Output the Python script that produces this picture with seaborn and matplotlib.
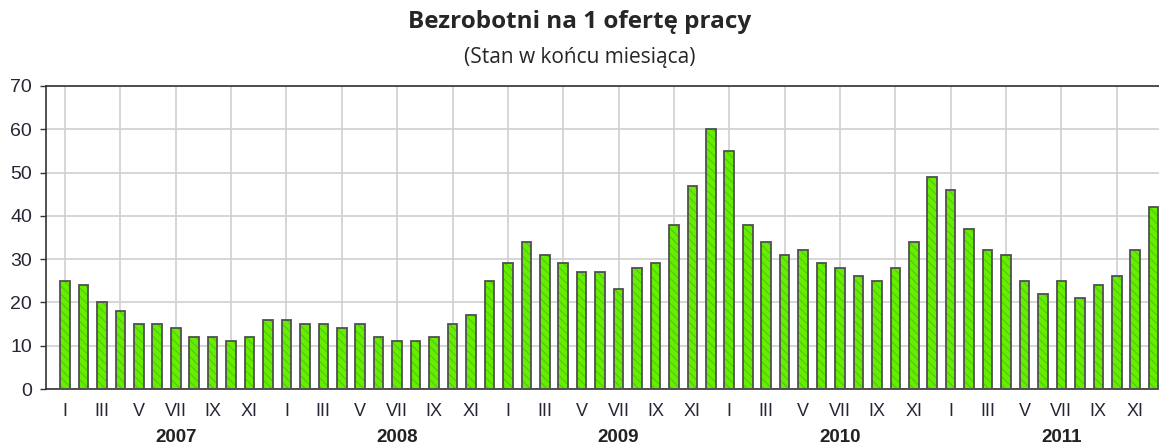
import pandas as pd
import matplotlib
matplotlib.use("Agg")
import matplotlib.pyplot as plt
import matplotlib.transforms as mtransforms
import seaborn as sns

# Data (unemployed per 1 job offer, end of month)
years = [2007, 2008, 2009, 2010, 2011]
month_names = ['I', 'II', 'III', 'IV', 'V', 'VI', 'VII', 'VIII', 'IX', 'X', 'XI', 'XII']
v2007 = [25, 24, 20, 18, 15, 15, 14, 12, 12, 11, 12, 16]
v2008 = [16, 15, 15, 14, 15, 12, 11, 11, 12, 15, 17, 25]
v2009 = [29, 34, 31, 29, 27, 27, 23, 28, 29, 38, 47, 60]
v2010 = [55, 38, 34, 31, 32, 29, 28, 26, 25, 28, 34, 49]
v2011 = [46, 37, 32, 31, 25, 22, 25, 21, 24, 26, 32, 42]

values = v2007 + v2008 + v2009 + v2010 + v2011
labels = [f"{y}-{m}" for y in years for m in month_names]
df = pd.DataFrame({'month': labels, 'value': values})

sns.set_style("white")
plt.rcParams['font.family'] = ['Liberation Sans', 'DejaVu Sans']
plt.rcParams['hatch.linewidth'] = 0.7

fig = plt.figure(figsize=(11.59, 4.46), dpi=100)
ax = fig.add_axes([0.0397, 0.1278, 0.96, 0.6794])

# filled, hatched bars
sns.barplot(data=df, x='month', y='value', order=labels, color='#66ee00',
            saturation=1, width=0.52, edgecolor='#4fc20a', linewidth=0,
            hatch='\\\\\\\\', ax=ax, zorder=2)
# outlines
sns.barplot(data=df, x='month', y='value', order=labels, fill=False,
            width=0.52, edgecolor='#505050', linewidth=1.3, ax=ax, zorder=3)

ax.set_xlim(-1.03, 59.27)
ax.set_ylim(0, 70)
ax.set_yticks(range(0, 71, 10))
ax.tick_params(axis='y', labelsize=14, labelcolor='#262636', length=4,
               width=1, direction='out', color='#333333', pad=6, left=True)

n = len(values)
ax.xaxis.remove_overlapping_locs = False
ax.set_xticks(range(0, n, 3))
ax.set_xticklabels([])
ax.set_xticks(range(0, n, 2), minor=True)
ax.set_xticklabels([month_names[i % 12] for i in range(0, n, 2)], minor=True)
ax.tick_params(axis='x', which='major', direction='in', length=4, width=1.2,
               color='#222222', bottom=True)
ax.tick_params(axis='x', which='minor', length=0, labelsize=13,
               labelcolor='#262636', pad=10)

ax.grid(True, which='major', color='#d0d0d0', linewidth=1.2, zorder=0)
ax.set_axisbelow(True)
ax.set_xlabel('')
ax.set_ylabel('')

for s in ['left', 'bottom', 'top']:
    ax.spines[s].set_color('#333333')
    ax.spines[s].set_linewidth(1.2)
ax.spines['right'].set_visible(False)

trans = mtransforms.blended_transform_factory(ax.transData, fig.transFigure)
for k, y in enumerate(years):
    ax.text(k * 12 + 6, 1 - 437 / 446, str(y), transform=trans, ha='center',
            va='center', fontsize=13.5, fontweight='bold', color='#222222')

fig.text(0.5, 1 - 22 / 446, 'Bezrobotni na 1 ofertę pracy', ha='center',
         va='center', fontsize=17.5, fontweight='bold', family=['Open Sans', 'DejaVu Sans'])
fig.text(0.5, 1 - 58 / 446, '(Stan w końcu miesiąca)', ha='center',
         va='center', fontsize=15, family=['Open Sans', 'DejaVu Sans'])

fig.savefig('out.png', dpi=100)
